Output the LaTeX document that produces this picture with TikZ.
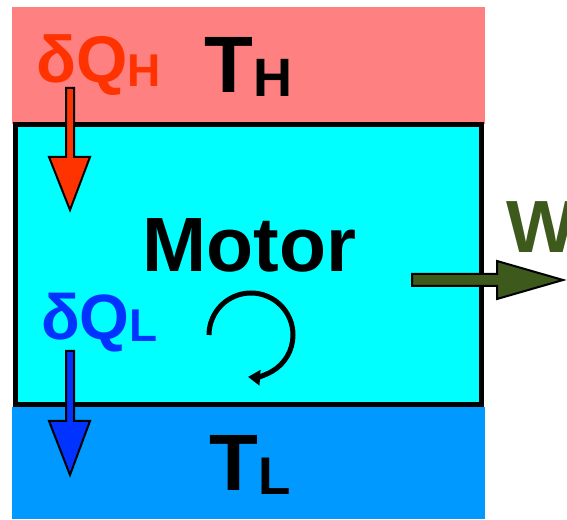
\documentclass[tikz,border=0pt]{standalone}
\usepackage{fontspec}
\setmainfont{Liberation Sans}[BoldFont={Liberation Sans Bold}]
\usetikzlibrary{arrows.meta,positioning}
\definecolor{hotred}{HTML}{FF8080}
\definecolor{coldblue}{HTML}{0099FF}
\definecolor{motorcyan}{HTML}{00FFFF}
\definecolor{heatred}{HTML}{FF3300}
\definecolor{heatblue}{HTML}{0033FF}
\definecolor{workgreen}{HTML}{3D5A1C}
\newcommand{\fs}[1]{\fontsize{#1}{#1}\selectfont}

\begin{document}
\begin{tikzpicture}[
    x=1pt, y=1pt,
    band/.style={draw=none, inner sep=0pt, outer sep=0pt},
    lbl/.style={inner sep=0pt, anchor=base west, font=\bfseries},
    flow/.style={draw=black, line width=2pt, line join=miter}
]
\clip (0,0) rectangle (567,519);
\fill[white] (0,0) rectangle (567,519);
% reservoirs and engine
\node[band, fill=hotred, anchor=north west, minimum width=473pt, minimum height=117pt] (hot) at (12,512) {};
\node[band, fill=coldblue, anchor=south west, minimum width=473pt, minimum height=112pt] (cold) at (12,0) {};
\node[draw=black, line width=5pt, fill=motorcyan, minimum width=466pt, minimum height=280pt, inner sep=0pt] (motor) at (248.5,254) {};
% labels
\node[lbl, text=heatred] (qh) at (36,436) {\fs{66}δQ\raisebox{-4pt}{\fs{46}H}};
\node[lbl] (th) at (204,426) {\fs{80}T\raisebox{-4pt}{\fs{54}H}};
\node[lbl, anchor=base] (mlabel) at (249.5,247) {\fs{77}Motor};
\node[lbl, text=heatblue] (ql) at (41,179) {\fs{64}δQ\raisebox{-2pt}{\fs{46}L}};
\node[lbl] (tl) at (209,29) {\fs{80}T\raisebox{-4pt}{\fs{53}L}};
\node[lbl, text=workgreen] (w) at (506,266) {\fs{74}W};
% heat and work flows
\draw[flow, fill=heatred] (66,431) -- (74,431) -- (74,362) -- (90,362) -- (70,309) -- (49,362) -- (66,362) -- cycle;
\draw[flow, fill=heatblue] (66,168) -- (74,168) -- (74,98) -- (90,98) -- (70,44) -- (49,98) -- (66,98) -- cycle;
\draw[flow, fill=workgreen] (412,245) -- (497,245) -- (497,258) -- (563,239) -- (497,220) -- (497,233) -- (412,233) -- cycle;
% cycle
\draw[line width=5pt, -{Triangle[length=12pt,width=15pt]}] (209,184) arc[start angle=180, end angle=-94, radius=42];
\end{tikzpicture}
\end{document}
